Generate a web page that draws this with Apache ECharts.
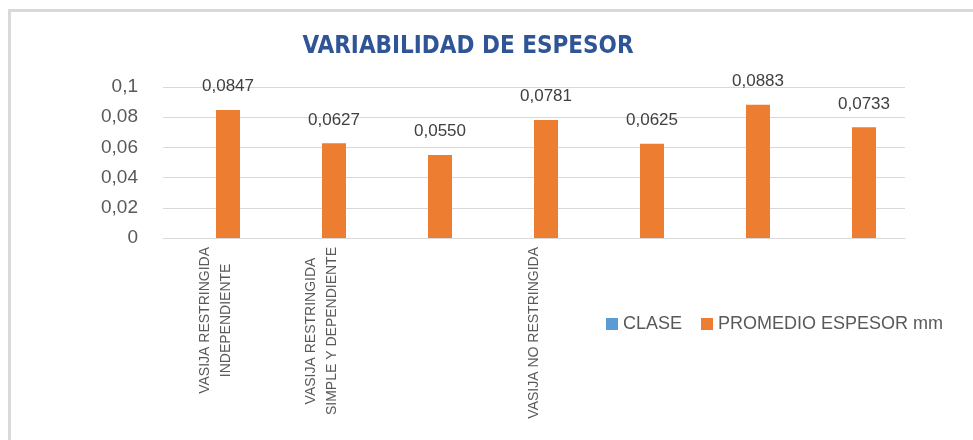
<!DOCTYPE html>
<html>
<head>
<meta charset="utf-8">
<script src="https://cdn.jsdelivr.net/npm/echarts@6/dist/echarts.min.js"></script>
<style>
    html, body { margin: 0; padding: 0; background: #fff; }
    #chart { width: 973px; height: 440px; }
</style>
</head>
<body>
<div id="chart"></div>
<script>
// categorias (solo algunas tienen etiqueta visible)
var categorias = [
    'VASIJA RESTRINGIDA\nINDEPENDIENTE',
    'VASIJA RESTRINGIDA\nSIMPLE Y DEPENDIENTE',
    '',
    'VASIJA NO RESTRINGIDA',
    '',
    '',
    ''
];
var clase = ['-', '-', '-', '-', '-', '-', '-'];
var promedioEspesor = [0.0847, 0.0627, 0.0550, 0.0781, 0.0625, 0.0883, 0.0733];
var ticksY = [0, 0.02, 0.04, 0.06, 0.08, 0.1];

function coma(v, dec) {
    return v.toFixed(dec).replace('.', ',');
}

var chart = echarts.init(document.getElementById('chart'));
chart.setOption({
    animation: false,
    textStyle: { fontFamily: 'Liberation Sans' },
    graphic: [{
        type: 'rect',
        shape: { x: 9.5, y: 10.5, width: 1000, height: 500 },
        style: { fill: 'none', stroke: '#d9d9d9', lineWidth: 3 },
        silent: true
    }],
    title: {
        text: 'VARIABILIDAD DE ESPESOR',
        left: 463,
        textAlign: 'center',
        top: 30,
        textStyle: {
            fontFamily: "'DejaVu Sans Condensed', 'DejaVu Sans', sans-serif",
            fontWeight: 'bold',
            fontSize: 24,
            color: '#2f5597'
        }
    },
    legend: {
        left: 601,
        top: 310,
        itemWidth: 12,
        itemHeight: 12,
        itemGap: 19,
        icon: 'rect',
        textStyle: { fontSize: 18, color: '#595959' },
        data: ['CLASE', 'PROMEDIO ESPESOR mm']
    },
    grid: { left: 163, right: 68, top: 87, bottom: 202 },
    xAxis: {
        type: 'category',
        data: categorias,
        axisLine: { lineStyle: { color: '#d9d9d9', width: 1 } },
        axisTick: { show: false },
        axisLabel: {
            interval: 0,
            rotate: 90,
            margin: 9,
            formatter: function (v) {
                if (!v) return '';
                return v.split('\n').map(function (l) { return '{a|' + l + '}'; }).join('\n');
            },
            rich: {
                a: { fontSize: 14, color: '#595959', align: 'center', lineHeight: 21 }
            }
        }
    },
    yAxis: {
        type: 'value',
        min: 0,
        max: 0.1,
        interval: 0.02,
        axisLine: { show: false },
        axisTick: { show: false },
        splitLine: { lineStyle: { color: '#d9d9d9', width: 1 } },
        axisLabel: {
            fontSize: 19,
            color: '#595959',
            margin: 25,
            formatter: function (v) {
                for (var i = 0; i < ticksY.length; i++) {
                    if (Math.abs(v - ticksY[i]) < 1e-9) {
                        return String(ticksY[i]).replace('.', ',');
                    }
                }
                return '';
            }
        }
    },
    series: [{
        name: 'CLASE',
        type: 'bar',
        data: clase,
        barWidth: 24,
        barGap: '0%',
        itemStyle: { color: '#5b9bd5' }
    }, {
        name: 'PROMEDIO ESPESOR mm',
        type: 'bar',
        data: promedioEspesor,
        barWidth: 24,
        barGap: '0%',
        itemStyle: { color: '#ed7d31' },
        label: {
            show: true,
            position: 'top',
            distance: 15,
            fontSize: 17,
            color: '#404040',
            formatter: function (p) { return coma(p.value, 4); }
        }
    }]
});
</script>
</body>
</html>
